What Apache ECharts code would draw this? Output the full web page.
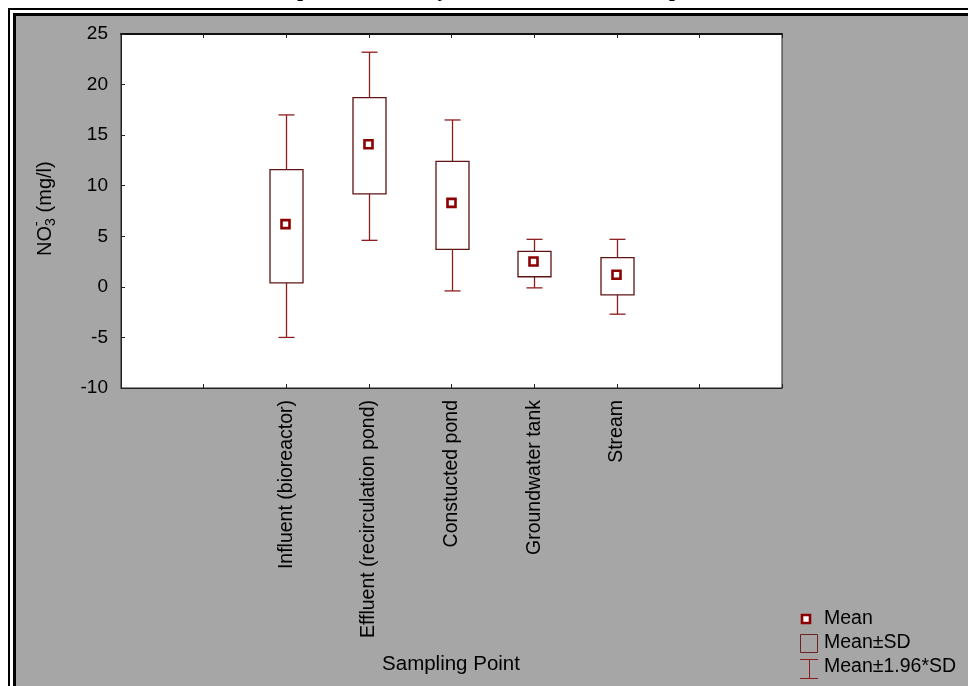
<!DOCTYPE html>
<html>
<head>
<meta charset="utf-8">
<script src="https://cdn.jsdelivr.net/npm/echarts@6/dist/echarts.min.js"></script>
<style>
  html, body { margin: 0; padding: 0; background: #ffffff; }
  #chart { width: 968px; height: 686px; }
</style>
</head>
<body>
<div id="chart"></div>
<script>
// Nitrate (NO3-) per sampling point: mean, mean±SD box, mean±1.96*SD whiskers
var categories = ['Influent (bioreactor)', 'Effluent (recirculation pond)', 'Constucted pond', 'Groundwater tank', 'Stream'];
var means   = [6.2, 14.1, 8.3, 2.5, 1.2];
var sdLow   = [0.4, 9.2, 3.7, 1.0, -0.8];
var sdHigh  = [11.6, 18.7, 12.4, 3.5, 2.9];
var ciLow   = [-5.0, 4.6, -0.4, -0.1, -2.7];
var ciHigh  = [17.0, 23.2, 16.5, 4.7, 4.7];
var yTicks  = { min: -10, max: 25, step: 5 };

// two empty slots on each side of the five sampling points
var axisData = ['', ''].concat(categories, ['', '']);
var seriesData = categories.map(function (c, i) {
  return [i + 2, ciLow[i], sdLow[i], means[i], sdHigh[i], ciHigh[i]];
});

var WHISKER = '#8f1c1c';
var BOXLINE = '#5e1414';
var MEAN = '#8b0000';
var FONT = 'Liberation Sans, Arial, sans-serif';

function renderBox(params, api) {
  var x = api.value(0);
  var pLo = api.coord([x, api.value(1)]);
  var pSdLo = api.coord([x, api.value(2)]);
  var pMean = api.coord([x, api.value(3)]);
  var pSdHi = api.coord([x, api.value(4)]);
  var pHi = api.coord([x, api.value(5)]);
  var cx = Math.round(pMean[0]) + 0.5;
  var halfBox = 16.5, halfCap = 8;
  var wStyle = { stroke: WHISKER, lineWidth: 1.3 };
  return {
    type: 'group',
    children: [
      { type: 'line', shape: { x1: cx, y1: pSdHi[1], x2: cx, y2: pHi[1] }, style: wStyle },
      { type: 'line', shape: { x1: cx - halfCap, y1: pHi[1], x2: cx + halfCap, y2: pHi[1] }, style: wStyle },
      { type: 'line', shape: { x1: cx, y1: pSdLo[1], x2: cx, y2: pLo[1] }, style: wStyle },
      { type: 'line', shape: { x1: cx - halfCap, y1: pLo[1], x2: cx + halfCap, y2: pLo[1] }, style: wStyle },
      { type: 'rect', shape: { x: cx - halfBox, y: pSdHi[1], width: halfBox * 2, height: pSdLo[1] - pSdHi[1] },
        style: { fill: '#ffffff', stroke: BOXLINE, lineWidth: 1.3 } },
      { type: 'rect', shape: { x: cx - 5, y: pMean[1] - 4, width: 8, height: 8 },
        style: { fill: '#ffffff', stroke: MEAN, lineWidth: 2.6 } }
    ]
  };
}

var chart = echarts.init(document.getElementById('chart'), null, { renderer: 'canvas' });

chart.setOption({
  backgroundColor: '#a6a6a6',
  animation: false,
  grid: {
    left: 121, right: 186, top: 34, bottom: 298,
    show: true, backgroundColor: '#ffffff', borderColor: '#222222', borderWidth: 1
  },
  xAxis: [
    {
      type: 'category', data: axisData, boundaryGap: false, position: 'bottom',
      axisLine: { onZero: false, lineStyle: { color: '#222222', width: 1 } },
      axisTick: { show: true, inside: true, length: 4, interval: 0, lineStyle: { color: '#222222' } },
      axisLabel: { interval: 0, rotate: 90, margin: 12, color: '#000000', fontSize: 19.5, fontFamily: FONT },
      splitLine: { show: false }
    },
    {
      type: 'category', data: axisData, boundaryGap: false, position: 'top',
      axisLine: { onZero: false, lineStyle: { color: '#111111', width: 2 } },
      axisTick: { show: true, inside: true, length: 4, interval: 0, lineStyle: { color: '#222222' } },
      axisLabel: { show: false },
      splitLine: { show: false }
    }
  ],
  yAxis: {
    type: 'value', min: yTicks.min, max: yTicks.max, interval: yTicks.step,
    axisLine: { show: true, onZero: false, lineStyle: { color: '#222222', width: 1 } },
    axisTick: { show: true, inside: true, length: 4, lineStyle: { color: '#222222' } },
    axisLabel: { margin: 13, color: '#000000', fontSize: 19, fontFamily: FONT },
    splitLine: { show: false }
  },
  series: [{
    type: 'custom',
    renderItem: renderBox,
    data: seriesData,
    encode: { x: 0, y: [1, 2, 3, 4, 5] },
    clip: false
  }],
  graphic: [
    // white margin and double frame
    { type: 'rect', shape: { x: 0, y: 0, width: 968, height: 8 }, style: { fill: '#ffffff' }, silent: true },
    { type: 'rect', shape: { x: 0, y: 0, width: 8, height: 686 }, style: { fill: '#ffffff' }, silent: true },
    { type: 'rect', shape: { x: 9, y: 9, width: 1200, height: 1200 }, style: { fill: 'none', stroke: '#000000', lineWidth: 2 }, silent: true },
    { type: 'rect', shape: { x: 11.5, y: 11.5, width: 1200, height: 1200 }, style: { fill: 'none', stroke: '#ffffff', lineWidth: 3 }, silent: true },
    { type: 'rect', shape: { x: 14.5, y: 14.5, width: 1200, height: 1200 }, style: { fill: 'none', stroke: '#000000', lineWidth: 3 }, silent: true },
    // caption above the frame (mostly cut off by the page edge)
    { type: 'text', x: 257, y: -9.5, silent: true,
      style: { text: 'Box plot of nitrate by station at the treatment plant', fill: '#000000',
               font: 'bold 21px "Liberation Serif", "Times New Roman", serif', textAlign: 'left', textVerticalAlign: 'middle' } },
    // y-axis title: NO3- (mg/l)
    { type: 'group', x: 45, y: 256, rotation: Math.PI / 2, silent: true,
      children: [
        { type: 'text', x: 0, y: 0, style: { text: 'NO', fill: '#000', font: '20px ' + FONT, textAlign: 'left', textVerticalAlign: 'middle' } },
        { type: 'text', x: 30, y: 6, style: { text: '3', fill: '#000', font: '14px ' + FONT, textAlign: 'left', textVerticalAlign: 'middle' } },
        { type: 'text', x: 30, y: -8, style: { text: '-', fill: '#000', font: '14px ' + FONT, textAlign: 'left', textVerticalAlign: 'middle' } },
        { type: 'text', x: 38, y: 0, style: { text: ' (mg/l)', fill: '#000', font: '20px ' + FONT, textAlign: 'left', textVerticalAlign: 'middle' } }
      ] },
    // x-axis title
    { type: 'text', x: 451, y: 664, silent: true,
      style: { text: 'Sampling Point', fill: '#000', font: '20.5px ' + FONT, textAlign: 'center', textVerticalAlign: 'middle' } },
    // key
    { type: 'rect', shape: { x: 802, y: 615, width: 8, height: 8 }, style: { fill: '#ffffff', stroke: MEAN, lineWidth: 2.6 }, silent: true },
    { type: 'text', x: 824, y: 619, silent: true,
      style: { text: 'Mean', fill: '#000', font: '19.5px ' + FONT, textAlign: 'left', textVerticalAlign: 'middle' } },
    { type: 'rect', shape: { x: 800.5, y: 634.5, width: 17, height: 18 }, style: { fill: 'none', stroke: '#6e2222', lineWidth: 1 }, silent: true },
    { type: 'text', x: 824, y: 643, silent: true,
      style: { text: 'Mean\u00b1SD', fill: '#000', font: '19.5px ' + FONT, textAlign: 'left', textVerticalAlign: 'middle' } },
    { type: 'line', shape: { x1: 800, y1: 659.5, x2: 818, y2: 659.5 }, style: { stroke: WHISKER, lineWidth: 1 }, silent: true },
    { type: 'line', shape: { x1: 809.5, y1: 659.5, x2: 809.5, y2: 678.5 }, style: { stroke: WHISKER, lineWidth: 1 }, silent: true },
    { type: 'line', shape: { x1: 800, y1: 678.5, x2: 818, y2: 678.5 }, style: { stroke: WHISKER, lineWidth: 1 }, silent: true },
    { type: 'text', x: 824, y: 667, silent: true,
      style: { text: 'Mean\u00b11.96*SD', fill: '#000', font: '19.5px ' + FONT, textAlign: 'left', textVerticalAlign: 'middle' } }
  ]
});
</script>
</body>
</html>
